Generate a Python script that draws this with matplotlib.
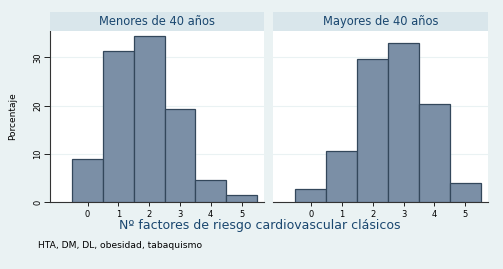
import numpy as np
import matplotlib
matplotlib.use("Agg")
import matplotlib.pyplot as plt

# values (percent per number of risk factors)
factores = [0, 1, 2, 3, 4, 5]
menores = [9.0, 31.4, 34.4, 19.4, 4.5, 1.45]
mayores = [2.6, 10.6, 29.7, 33.05, 20.4, 3.9]
paneles = ["Menores de 40 años", "Mayores de 40 años"]
yticks = [0, 10, 20, 30]

bg = "#EAF2F3"
strip_col = "#D9E6EB"
navy = "#1A476F"
bar_col = "#7B8FA6"
edge_col = "#33475B"

fig = plt.figure(figsize=(5.03, 2.69), dpi=100)
fig.patch.set_facecolor(bg)

W, H = 503, 269
boxes = [(50, 264), (273, 488)]
top, base, strip_top = 31, 202, 12

for i, (vals, title) in enumerate(zip([menores, mayores], paneles)):
    x0, x1 = boxes[i]
    ax = fig.add_axes([x0 / W, 1 - base / H, (x1 - x0) / W, (base - top) / H])
    ax.set_facecolor("white")
    ax.bar(factores, vals, width=1, color=bar_col, edgecolor=edge_col, linewidth=0.9, zorder=3)
    ax.set_xlim(-1.22, 5.73)
    ax.set_ylim(0, 35.5)
    ax.set_yticks(yticks)
    ax.set_xticks(factores)
    ax.grid(axis="y", color=bg, linewidth=0.8, zorder=0)
    for s in ["top", "right"]:
        ax.spines[s].set_visible(False)
    ax.spines["bottom"].set_color("#333333")
    ax.spines["bottom"].set_linewidth(0.8)
    ax.tick_params(axis="x", labelsize=6, length=3, width=0.6, pad=2.5)
    if i == 0:
        ax.spines["left"].set_color("#333333")
        ax.spines["left"].set_linewidth(0.8)
        ax.tick_params(axis="y", labelsize=6, length=4, width=0.6, pad=1.5, labelrotation=90)
        for lab in ax.get_yticklabels():
            lab.set_va("center")
        ax.set_ylabel("Porcentaje", fontsize=6.5)
        ax.yaxis.set_label_coords((17.5 - x0) / (x1 - x0), 0.5)
    else:
        ax.spines["left"].set_visible(False)
        ax.tick_params(axis="y", left=False, labelleft=False)

    # strip header
    sax = fig.add_axes([x0 / W, 1 - top / H, (x1 - x0) / W, (top - strip_top) / H])
    sax.set_facecolor(strip_col)
    sax.set_xticks([])
    sax.set_yticks([])
    for s in sax.spines.values():
        s.set_visible(False)
    sax.text(0.5, 0.5, title, ha="center", va="center", fontsize=8.3, color=navy,
             transform=sax.transAxes)

fig.text(259.5 / W, 1 - 226 / H, "Nº factores de riesgo cardiovascular clásicos",
         ha="center", va="center", fontsize=9, color=navy)
fig.text(38 / W, 1 - 246 / H, "HTA, DM, DL, obesidad, tabaquismo",
         ha="left", va="center", fontsize=6.6, color="black")

fig.savefig("out.png", dpi=100, facecolor=bg)
